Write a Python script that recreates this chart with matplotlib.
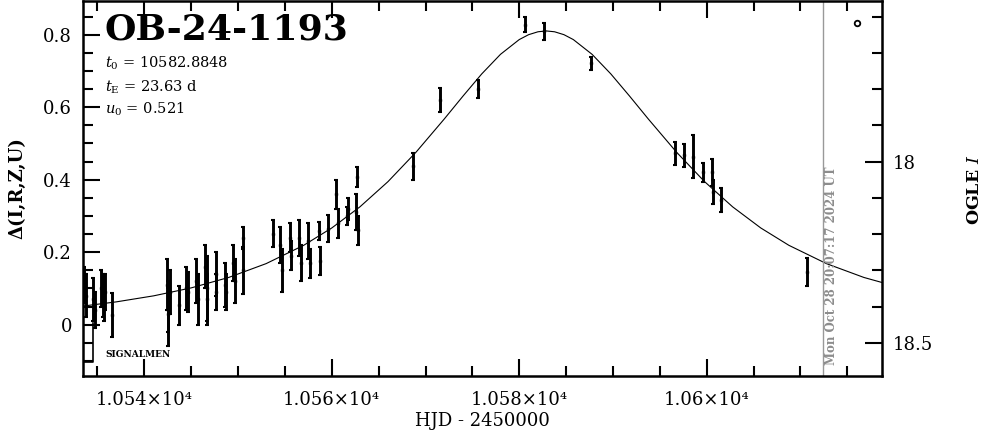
import numpy as np
import matplotlib
matplotlib.use("Agg")
import matplotlib.pyplot as plt
from matplotlib.ticker import MultipleLocator, FuncFormatter

plt.rcParams['font.family'] = ['DejaVu Serif']
plt.rcParams['mathtext.fontset'] = 'dejavuserif'

# photometry: HJD-2450000, delta, error
hjd = [10533.6, 10533.7, 10533.8, 10534.55, 10534.7, 10535.4, 10535.6, 10535.7, 10535.8, 10536.6,
       10542.4, 10542.55, 10542.7, 10542.5, 10543.7, 10544.5, 10544.65, 10545.5, 10545.7,
       10546.5, 10546.65, 10546.7, 10547.6, 10547.7, 10548.6, 10548.7, 10549.5, 10549.65,
       10550.5, 10550.55, 10553.7, 10554.5, 10554.65, 10555.5, 10555.6, 10556.5, 10556.7,
       10557.5, 10557.65, 10558.6, 10558.7, 10559.6, 10560.5, 10560.65, 10561.6, 10561.7,
       10562.7, 10562.6, 10562.75,
       10568.71, 10571.56, 10575.58, 10580.66, 10582.69, 10587.64, 10596.61, 10597.60,
       10598.59, 10599.59, 10600.59, 10600.62, 10601.55, 10610.69]
delta = [0.11, 0.10, 0.08, 0.07, 0.04, 0.10, 0.08, 0.06, 0.09, 0.027,
         0.11, 0.03, 0.09, 0.04, 0.054, 0.10, 0.09, 0.12, 0.07,
         0.16, 0.10, 0.07, 0.14, 0.09, 0.11, 0.09, 0.17, 0.12,
         0.24, 0.15, 0.251, 0.22, 0.15, 0.24, 0.19, 0.24, 0.17,
         0.23, 0.17, 0.258, 0.176, 0.265, 0.36, 0.28, 0.30, 0.32,
         0.407, 0.31, 0.26,
         0.437, 0.621, 0.651, 0.828, 0.809, 0.721, 0.473, 0.467,
         0.464, 0.420, 0.420, 0.365, 0.343, 0.146]
err = [0.05, 0.04, 0.06, 0.06, 0.05, 0.05, 0.06, 0.05, 0.05, 0.06,
       0.07, 0.09, 0.06, 0.06, 0.054, 0.06, 0.055, 0.06, 0.07,
       0.06, 0.09, 0.07, 0.06, 0.05, 0.06, 0.05, 0.05, 0.06,
       0.03, 0.065, 0.037, 0.05, 0.06, 0.04, 0.04, 0.05, 0.05,
       0.05, 0.04, 0.025, 0.038, 0.037, 0.04, 0.04, 0.025, 0.03,
       0.027, 0.05, 0.04,
       0.037, 0.033, 0.025, 0.021, 0.023, 0.018, 0.032, 0.032,
       0.058, 0.027, 0.036, 0.033, 0.033, 0.038]

# model curve
model_t = [10533.5, 10537.0, 10541.0, 10545.0, 10549.0, 10553.0, 10557.0, 10560.0, 10563.0,
           10566.0, 10569.0, 10572.0, 10574.0, 10576.0, 10578.0, 10580.0, 10581.0, 10582.0,
           10582.885, 10583.77, 10584.77, 10585.77, 10587.77, 10589.77, 10591.77, 10593.77,
           10596.77, 10599.77, 10602.77, 10605.77, 10608.77, 10612.77, 10616.77, 10620.77]
model_d = [0.0516, 0.0630, 0.0797, 0.1016, 0.1304, 0.1686, 0.2190, 0.2669, 0.3251,
           0.3948, 0.4763, 0.5675, 0.6307, 0.6919, 0.7459, 0.7866, 0.8001, 0.8081,
           0.8104, 0.8081, 0.8001, 0.7866, 0.7459, 0.6919, 0.6307, 0.5675,
           0.4763, 0.3948, 0.3251, 0.2669, 0.2190, 0.1686, 0.1304, 0.1016]

xtick_vals = [10540, 10560, 10580, 10600]
xtick_labels = ['1.054×10⁴', '1.056×10⁴', '1.058×10⁴', '1.06×10⁴']
t0, tE, u0 = '10582.8848', '23.63', '0.521'
mag_zero = 18.45
now_line = 10612.4

fig = plt.figure(figsize=(9.86, 4.34), dpi=100)
ax = fig.add_axes([0.0842, 0.1336, 0.8103, 0.8641])

ax.plot(model_t, model_d, color='black', lw=0.8)
ax.errorbar(hjd, delta, yerr=err, fmt='none', ecolor='black', elinewidth=2.1, capsize=1.5, capthick=1.5)
ax.plot(hjd, delta, 's', color='black', ms=1.8)

# signalmen marker
ax.plot([10533.46, 10534.5, 10534.5], [-0.104, -0.104, 0.005], color='black', lw=1.2)
ax.text(10535.8, -0.082, 'SIGNALMEN', fontsize=6.5, fontweight='bold', va='center')

ax.axvline(now_line, color='#999999', lw=1)
ax.text(now_line + 0.95, -0.11, 'Mon Oct 28 20:07:17 2024 UT', rotation=90, color='#8c8c8c',
        fontsize=8.5, fontweight='bold', ha='center', va='bottom')
ax.plot([10616.0], [0.833], 'o', mfc='none', mec='black', ms=4, mew=1.3)

ax.text(10535.8, 0.815, 'OB-24-1193', fontsize=26, fontweight='bold', va='center')
ax.text(10535.8, 0.72, r'$t_0$ = ' + t0, fontsize=10.5, va='center')
ax.text(10535.8, 0.655, r'$t_\mathrm{E}$ = ' + tE + ' d', fontsize=10.5, va='center')
ax.text(10535.8, 0.595, r'$u_0$ = ' + u0, fontsize=10.5, va='center')

ax.set_xlim(10533.46, 10618.7)
ax.set_ylim(-0.1415, 0.893)
ax.set_xticks(xtick_vals)
ax.set_xticklabels(xtick_labels)
ax.xaxis.set_minor_locator(MultipleLocator(5))
ax.set_yticks([0, 0.2, 0.4, 0.6, 0.8])
ax.yaxis.set_major_formatter(FuncFormatter(lambda v, p: '0' if abs(v) < 1e-9 else f'{v:.1f}'))
ax.yaxis.set_minor_locator(MultipleLocator(0.05))
ax.tick_params(which='both', direction='in', top=True, right=False, width=1.5, labelsize=13)
ax.tick_params(which='major', length=12, pad=8)
ax.tick_params(axis='x', which='major', pad=11)
ax.tick_params(which='minor', length=7)
for s in ax.spines.values():
    s.set_linewidth(1.8)

sec = ax.secondary_yaxis('right', functions=(lambda d: mag_zero - d, lambda m: mag_zero - m))
sec.set_yticks([18, 18.5])
sec.set_yticklabels(['18', '18.5'])
sec.yaxis.set_minor_locator(MultipleLocator(0.1))
sec.tick_params(which='both', direction='in', width=1.5, labelsize=13)
sec.tick_params(which='major', length=12, pad=8)
sec.tick_params(which='minor', length=7)
fig.text(0.988, 0.563, r'OGLE $I$', fontsize=12.5, fontweight='bold', rotation=90,
         ha='center', va='center')

ax.set_xlabel('HJD - 2450000', fontsize=13, labelpad=2)
ax.set_ylabel('Δ(I,R,Z,U)', fontsize=13, fontweight='bold', labelpad=12)

fig.savefig('out.png', dpi=100)
